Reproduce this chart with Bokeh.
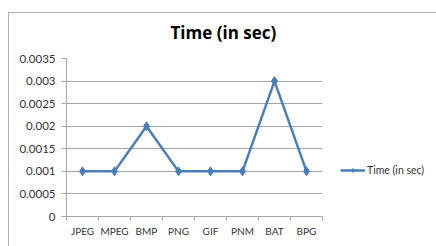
from bokeh.plotting import figure
from bokeh.models import FixedTicker, Legend, LegendItem, Range1d
from bokeh.embed import file_html
from bokeh.resources import INLINE

categories = ["JPEG", "MPEG", "BMP", "PNG", "GIF", "PNM", "BAT", "BPG"]
time_sec = [0.001, 0.001, 0.002, 0.001, 0.001, 0.001, 0.003, 0.001]
y_ticks = [0, 0.0005, 0.001, 0.0015, 0.002, 0.0025, 0.003, 0.0035]
y_tick_labels = ["0", "0.0005", "0.001", "0.0015", "0.002", "0.0025", "0.003", "0.0035"]
series_name = "Time (in sec)"

FONT = "Lato"
BLUE = "#4a7ebb"
GRID = "#a6a6a6"
EDGE = "#b0b0b0"

idx = list(range(len(categories)))

p = figure(frame_width=256, frame_height=158, output_backend="svg", toolbar_location=None,
           x_range=Range1d(-0.5, len(categories) - 0.5), y_range=Range1d(0, 0.0035),
           min_border_left=66, min_border_right=114, min_border_top=55, min_border_bottom=30,
           title=series_name)
p.margin = (3, 0, 0, 0)
p.border_fill_alpha = 0
p.styles = {
    "background-color": "white",
    "background-image": f"linear-gradient({EDGE},{EDGE}), linear-gradient({EDGE},{EDGE})",
    "background-position": "8px 9px, 8px 9px",
    "background-size": "calc(100% - 8px) 1px, 1px calc(100% - 9px)",
    "background-repeat": "no-repeat",
}
p.outline_line_color = None
p.background_fill_color = "white"

p.title.text_font = "Open Sans"
p.title.text_font_size = "17px"
p.title.text_font_style = "bold"
p.title.text_color = "#000000"
p.title.align = "left"
p.title.offset = 104
p.title.standoff = 29

# y axis
p.yaxis.ticker = FixedTicker(ticks=y_ticks)
p.yaxis.major_label_overrides = {t: l for t, l in zip(y_ticks, y_tick_labels)}
p.yaxis.major_tick_in = 0
p.yaxis.major_tick_out = 5
p.yaxis.major_tick_line_color = GRID
p.yaxis.minor_tick_line_color = None
p.yaxis.axis_line_color = GRID
p.yaxis.major_label_text_font = FONT
p.yaxis.major_label_text_font_size = "11.5px"
p.yaxis.major_label_text_color = "#333333"
p.yaxis.major_label_standoff = 6

# x axis
p.xaxis.ticker = FixedTicker(ticks=idx, minor_ticks=[i - 0.5 for i in range(len(categories) + 1)])
p.xaxis.major_label_overrides = {i: c for i, c in zip(idx, categories)}
p.xaxis.major_tick_line_color = None
p.xaxis.minor_tick_in = 0
p.xaxis.minor_tick_out = 4
p.xaxis.minor_tick_line_color = GRID
p.xaxis.axis_line_color = GRID
p.xaxis.major_label_text_font = FONT
p.xaxis.major_label_text_font_size = "10px"
p.xaxis.major_label_text_color = "#333333"
p.xaxis.major_label_standoff = 2

p.xgrid.grid_line_color = None
p.ygrid.grid_line_color = GRID
p.ygrid.ticker = FixedTicker(ticks=y_ticks)

r_line = p.line(idx, time_sec, line_color=BLUE, line_width=2.5)
r_pts = p.scatter(idx, time_sec, marker="diamond", size=9, fill_color=BLUE, line_color=BLUE)

legend = Legend(items=[LegendItem(label=series_name, renderers=[r_line, r_pts])],
                location=(18, 40), border_line_color=None, background_fill_alpha=0,
                padding=0, margin=0, glyph_width=25, glyph_height=10, label_standoff=2,
                label_text_font=FONT, label_text_font_size="10.5px", label_text_color="#333333")
p.add_layout(legend, "right")

open("out.html", "w").write(file_html(p, INLINE))
